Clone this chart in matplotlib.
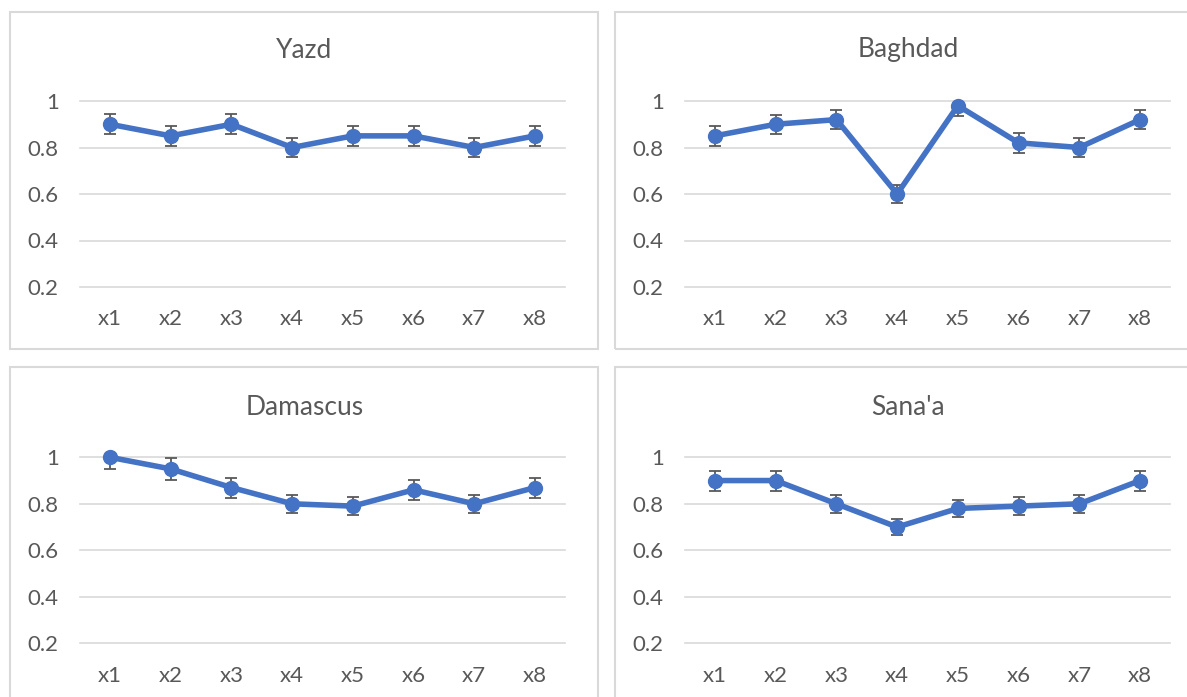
import matplotlib
matplotlib.use("Agg")
import matplotlib.pyplot as plt
from matplotlib.patches import Rectangle

plt.rcParams['font.family'] = ['Lato', 'DejaVu Sans']

categories = ["x1", "x2", "x3", "x4", "x5", "x6", "x7", "x8"]

titles = ["Yazd", "Baghdad", "Damascus", "Sana'a"]

yazd = [0.90, 0.85, 0.90, 0.80, 0.85, 0.85, 0.80, 0.85]
yazd_err = [0.043, 0.043, 0.043, 0.039, 0.043, 0.043, 0.039, 0.043]

baghdad = [0.85, 0.90, 0.92, 0.60, 0.98, 0.82, 0.80, 0.92]
baghdad_err = [0.042, 0.041, 0.041, 0.040, 0.043, 0.042, 0.041, 0.041]

damascus = [1.00, 0.95, 0.87, 0.80, 0.79, 0.86, 0.80, 0.87]
damascus_err = [0.050, 0.048, 0.043, 0.040, 0.040, 0.043, 0.040, 0.043]

sanaa = [0.90, 0.90, 0.80, 0.70, 0.78, 0.79, 0.80, 0.90]
sanaa_err = [0.043, 0.043, 0.038, 0.034, 0.038, 0.038, 0.038, 0.043]

yticks = [0.2, 0.4, 0.6, 0.8, 1.0]
ytick_labels = ["0.2", "0.4", "0.6", "0.8", "1"]

series = [yazd, baghdad, damascus, sanaa]
errors = [yazd_err, baghdad_err, damascus_err, sanaa_err]

W, H = 1187, 697
fig = plt.figure(figsize=(W / 100, H / 100), dpi=100)
fig.patch.set_facecolor("white")

LINE = "#4472C4"
TEXT = "#595959"
GRID = "#d9d9d9"

# pixel layout of each panel: (plot left, plot right, y of 1.0, y of 0.2, box, title pos)
panels = [
    (79.6, 565.4, 101, 287, (10, 12, 598, 349), (304, 50)),
    (684.6, 1170.4, 101, 287, (615, 12, 1205, 349), (908, 50)),
    (79.6, 565.4, 457.3, 643.3, (10, 367, 598, 715), (305, 407)),
    (684.6, 1170.4, 457.3, 643.3, (615, 367, 1205, 715), (908, 407)),
]

for i, (x0, x1, ytop, ybot, box, tpos) in enumerate(panels):
    bx0, by0, bx1, by1 = box
    fig.patches.append(Rectangle((bx0 / W, 1 - by1 / H), (bx1 - bx0) / W, (by1 - by0) / H,
                                 transform=fig.transFigure, fill=False,
                                 edgecolor=GRID, linewidth=1.5))
    fig.text(tpos[0] / W, 1 - tpos[1] / H, titles[i], ha="center", va="center",
             fontsize=19, color=TEXT)

    ax = fig.add_axes([x0 / W, 1 - ybot / H, (x1 - x0) / W, (ybot - ytop) / H])
    xs = list(range(len(categories)))
    ax.errorbar(xs, series[i], yerr=errors[i], fmt="none", ecolor=TEXT,
                elinewidth=1.3, capsize=4, capthick=1.3, zorder=2)
    ax.plot(xs, series[i], color=LINE, linewidth=4, marker="o", markersize=10,
            zorder=3, clip_on=False)
    ax.set_xlim(-0.5, len(categories) - 0.5)
    ax.set_ylim(0.2, 1.0)
    ax.set_yticks(yticks)
    ax.set_yticklabels(ytick_labels)
    ax.set_xticks(xs)
    ax.set_xticklabels(categories)
    ax.tick_params(axis="both", length=0, labelsize=16, labelcolor=TEXT)
    ax.tick_params(axis="y", pad=15)
    ax.tick_params(axis="x", pad=16)
    ax.yaxis.grid(True, color=GRID, linewidth=1.2, clip_on=False)
    ax.set_axisbelow(True)
    for s in ax.spines.values():
        s.set_visible(False)

fig.savefig("out.png", dpi=100)
